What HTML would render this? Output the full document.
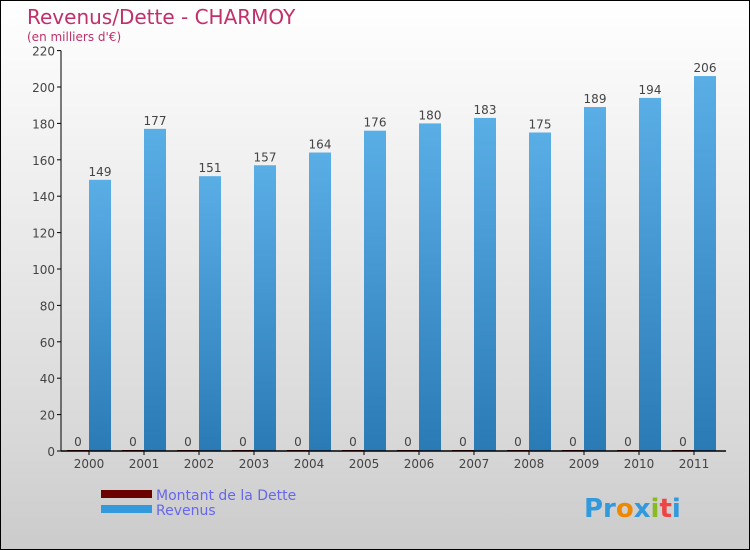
<!DOCTYPE html>
<html><head><meta charset="utf-8"><style>
body{margin:0}
#c{position:relative;width:748px;height:548px;border:1px solid #000;background:linear-gradient(#fff,#f0f0f0 30%,#d8d8d8 80%,#cbcbcb);font-family:"DejaVu Sans","Liberation Sans",sans-serif;overflow:hidden}
</style></head><body>
<div id="c">
<svg width="748" height="548" id="s">
<defs>
<linearGradient id="gb" x1="0" y1="0" x2="0" y2="1"><stop offset="0" stop-color="#5aaee6"/><stop offset="1" stop-color="#2a7ab6"/></linearGradient>
</defs>
<text x="26" y="23" font-size="20" fill="#c0306a">Revenus/Dette - CHARMOY</text>
<text x="26" y="40" font-size="12" fill="#c0306a">(en milliers d'€)</text>
<g id="g"></g>
<g>
<rect x="100" y="489" width="51" height="8" fill="#6b0000"/>
<text x="155" y="499" font-size="14" fill="#6666ee">Montant de la Dette</text>
<rect x="100" y="504" width="51" height="8" fill="#3399dd"/>
<text x="155" y="514" font-size="14" fill="#6666ee">Revenus</text>
</g>
<text x="583" y="516" font-size="26" font-weight="bold"><tspan fill="#3399dd">Pr</tspan><tspan fill="#ee8800">o</tspan><tspan fill="#3399dd">x</tspan><tspan fill="#88bb22">i</tspan><tspan fill="#ee4444">t</tspan><tspan fill="#3399dd">i</tspan></text>
</svg>
</div>
<script>
const years=["2000","2001","2002","2003","2004","2005","2006","2007","2008","2009","2010","2011"];
const revenus=[149,177,151,157,164,176,180,183,175,189,194,206];
const dette=[0,0,0,0,0,0,0,0,0,0,0,0];
const yTicks=[0,20,40,60,80,100,120,140,160,180,200,220];
const NS="http://www.w3.org/2000/svg",g=document.getElementById('g');
const y=v=>450-v*1.82, x=i=>88+55*i;
function mk(t,a,p){const e=document.createElementNS(NS,t);for(const k in a)e.setAttribute(k,a[k]);(p||g).appendChild(e);return e;}
yTicks.forEach(t=>{
 const l=mk('line',{x1:56,x2:60,y1:y(t),y2:y(t),stroke:'#000'});
 
 
 const tx=mk('text',{x:54,y:y(t)+5,'font-size':12,fill:'#444','text-anchor':'end'});tx.textContent=t;
 
 
});
years.forEach((yr,i)=>{
 const cx=x(i);
 const b=mk('rect',{x:cx,y:y(revenus[i]),width:22,height:450-y(revenus[i]),fill:'url(#gb)'});
 
 
 const d=mk('rect',{x:cx-22,y:y(dette[i])-1,width:22,height:1+450-y(dette[i]),fill:'#6b0000'});
 
 
 const lv=mk('text',{x:cx+11,y:y(revenus[i])-4,'font-size':12,fill:'#444','text-anchor':'middle'});lv.textContent=revenus[i];
 
 
 const ld=mk('text',{x:cx-11,y:y(dette[i])-5,'font-size':12,fill:'#444','text-anchor':'middle'});ld.textContent=dette[i];
 
 
 const tk=mk('line',{x1:cx,x2:cx,y1:450,y2:454,stroke:'#000'});
 
 
 const xl=mk('text',{x:cx,y:467,'font-size':12,fill:'#444','text-anchor':'middle'});xl.textContent=yr;
 
 
});
const ya=mk('line',{x1:60,x2:60,y1:y(220),y2:450,stroke:'#000'});


const xa=mk('line',{x1:60,x2:725,y1:450,y2:450,stroke:'#000','stroke-width':1.5});


</script>
</body></html>
